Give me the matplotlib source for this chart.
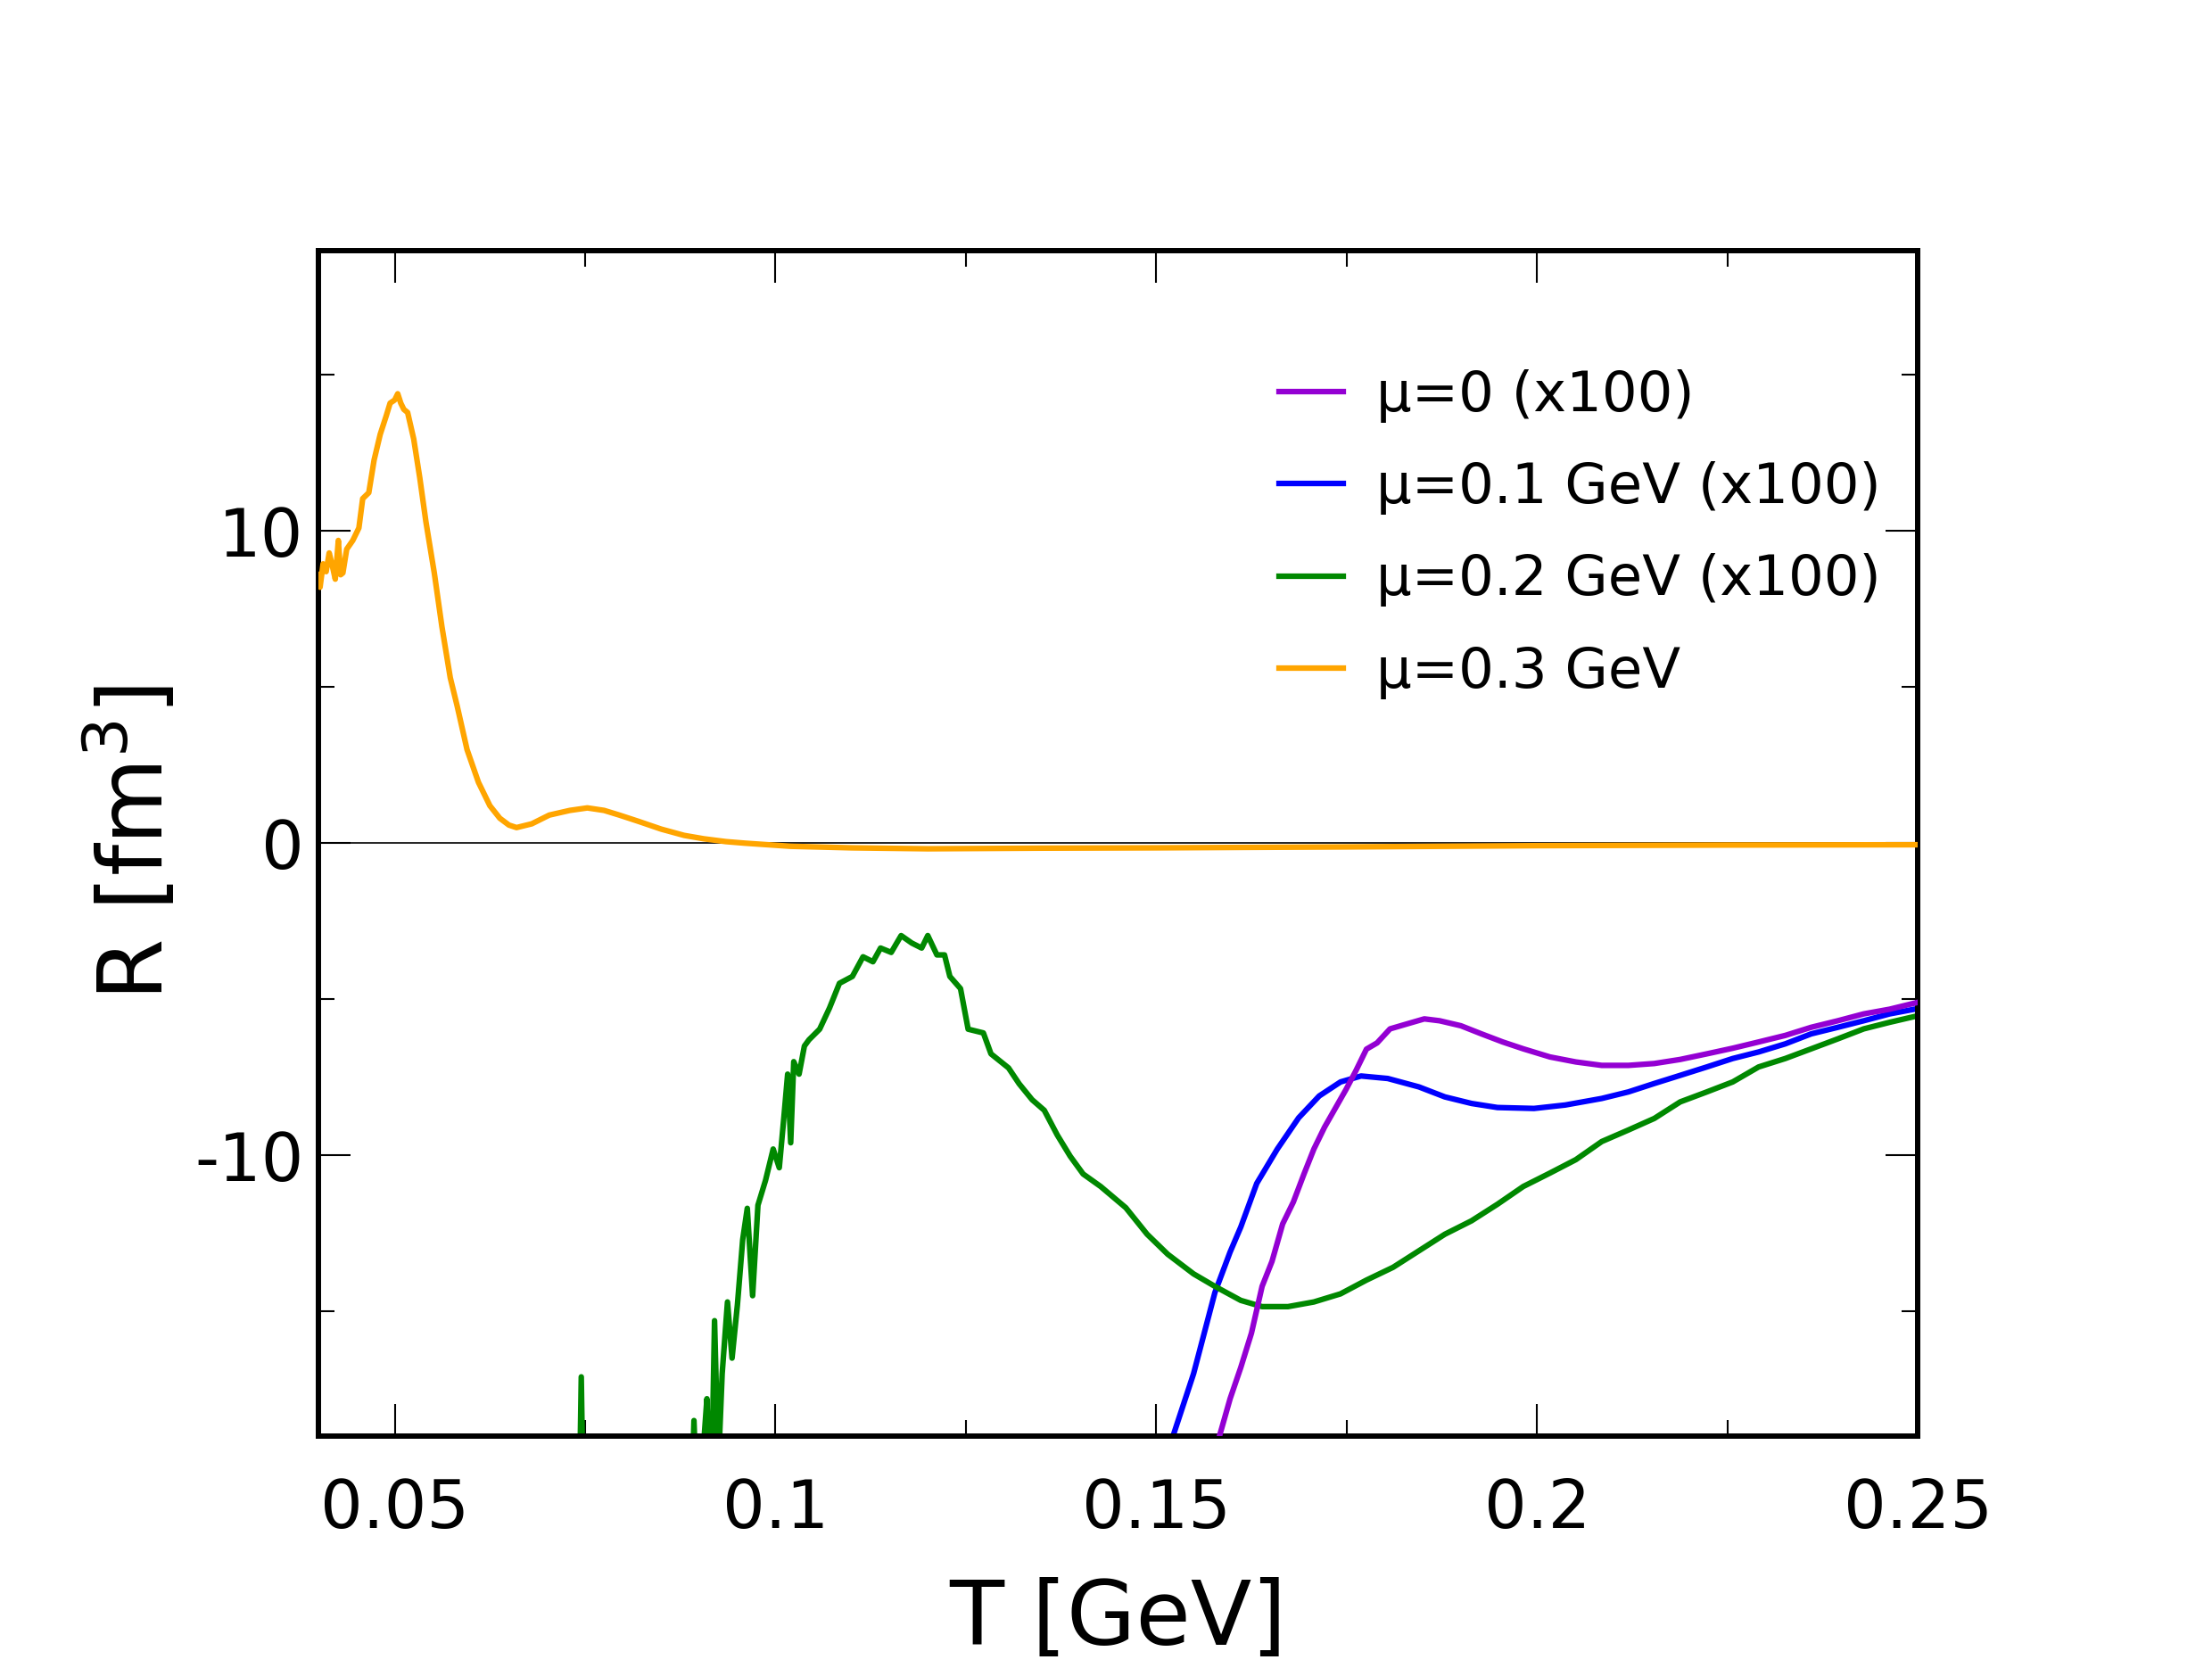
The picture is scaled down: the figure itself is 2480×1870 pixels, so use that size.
import matplotlib
matplotlib.use("Agg")
import matplotlib.pyplot as plt
from matplotlib.ticker import MultipleLocator

plt.rcParams["font.family"] = ["DejaVu Sans"]

# mu = 0 (x100)
t_mu0 = [0.1570, 0.1583, 0.1597, 0.1611, 0.1625, 0.1639, 0.1652, 0.1666, 0.1680,
         0.1694, 0.1707, 0.1721, 0.1735, 0.1749, 0.1762, 0.1776, 0.1790, 0.1807,
         0.1828, 0.1852, 0.1872, 0.1900, 0.1927, 0.1955, 0.1982, 0.2017, 0.2051,
         0.2085, 0.2120, 0.2154, 0.2188, 0.2223, 0.2257, 0.2291, 0.2326, 0.2360,
         0.2395, 0.2429, 0.2463, 0.2500]
r_mu0 = [-21.0, -19.0, -17.8, -16.8, -15.7, -14.2, -13.4, -12.2, -11.5,
         -10.6, -9.8, -9.1, -8.5, -7.9, -7.3, -6.6, -6.4, -5.95,
         -5.8, -5.63, -5.69, -5.85, -6.11, -6.37, -6.59, -6.85, -7.01,
         -7.12, -7.12, -7.06, -6.93, -6.75, -6.57, -6.37, -6.16, -5.9,
         -5.69, -5.47, -5.32, -5.1]

# mu = 0.1 GeV (x100)
t_mu1 = [0.1510, 0.1522, 0.1549, 0.1563, 0.1577, 0.1597, 0.1611, 0.1632, 0.1659,
         0.1687, 0.1714, 0.1742, 0.1769, 0.1804, 0.1845, 0.1879, 0.1914, 0.1948,
         0.1996, 0.2037, 0.2085, 0.2120, 0.2154, 0.2188, 0.2223, 0.2257, 0.2291,
         0.2326, 0.2360, 0.2395, 0.2429, 0.2463, 0.2500]
r_mu1 = [-21.0, -19.0, -17.0, -15.7, -14.4, -13.1, -12.3, -10.9, -9.8,
         -8.8, -8.1, -7.65, -7.46, -7.54, -7.81, -8.13, -8.34, -8.47,
         -8.5, -8.39, -8.18, -7.97, -7.7, -7.44, -7.17, -6.9, -6.69,
         -6.43, -6.11, -5.9, -5.69, -5.47, -5.3]

# mu = 0.2 GeV (x100)
t_mu2 = [0.0740, 0.0745, 0.0750, 0.0885, 0.0893, 0.0898, 0.0905, 0.0910, 0.0915,
         0.0920, 0.0925, 0.0930, 0.0937, 0.0943, 0.0950, 0.0957, 0.0963, 0.0970,
         0.0977, 0.0987, 0.0997, 0.1005, 0.1011, 0.1016, 0.1020, 0.1024, 0.1031,
         0.1038, 0.1044, 0.1058, 0.1071, 0.1084, 0.1101, 0.1115, 0.1128, 0.1138,
         0.1152, 0.1165, 0.1179, 0.1192, 0.1200, 0.1212, 0.1222, 0.1229, 0.1243,
         0.1253, 0.1273, 0.1283, 0.1306, 0.1320, 0.1337, 0.1353, 0.1370, 0.1387,
         0.1404, 0.1427, 0.1460, 0.1488, 0.1515, 0.1549, 0.1577, 0.1611, 0.1639,
         0.1673, 0.1707, 0.1742, 0.1776, 0.1811, 0.1845, 0.1879, 0.1914, 0.1948,
         0.1982, 0.2017, 0.2051, 0.2085, 0.2120, 0.2154, 0.2188, 0.2223, 0.2257,
         0.2291, 0.2326, 0.2360, 0.2395, 0.2429, 0.2463, 0.2500]
r_mu2 = [-25.0, -17.1, -25.0, -25.0, -18.5, -22.0, -19.5, -17.8, -22.0,
         -15.3, -20.0, -17.0, -14.7, -16.5, -14.8, -12.7, -11.7, -14.5,
         -11.6, -10.8, -9.8, -10.4, -8.8, -7.4, -9.6, -7.0, -7.4,
         -6.5, -6.3, -5.96, -5.28, -4.49, -4.27, -3.64, -3.8, -3.36,
         -3.5, -2.96, -3.2, -3.36, -2.96, -3.58, -3.58, -4.27, -4.66,
         -5.96, -6.08, -6.75, -7.2, -7.71, -8.22, -8.56, -9.35, -10.03,
         -10.6, -11.0, -11.68, -12.53, -13.17, -13.8, -14.2, -14.65, -14.85,
         -14.85, -14.7, -14.44, -14.0, -13.59, -13.06, -12.53, -12.1, -11.57,
         -11.0, -10.57, -10.14, -9.56, -9.19, -8.82, -8.29, -7.97, -7.65,
         -7.17, -6.9, -6.59, -6.27, -5.95, -5.74, -5.53]

# mu = 0.3 GeV
t_mu3 = [0.0398, 0.0402, 0.0406, 0.0410, 0.0414, 0.0418, 0.0422, 0.0426, 0.0429,
         0.0432, 0.0437, 0.0445, 0.0453, 0.0458, 0.0466, 0.0473, 0.0481, 0.0489,
         0.0494, 0.0500, 0.0504, 0.0508, 0.0512, 0.0517, 0.0525, 0.0533, 0.0541,
         0.0552, 0.0562, 0.0573, 0.0582, 0.0595, 0.0610, 0.0625, 0.0638, 0.0650,
         0.0660, 0.0680, 0.0703, 0.0730, 0.0753, 0.0775, 0.0795, 0.0820, 0.0850,
         0.0880, 0.0906, 0.0935, 0.0960, 0.1020, 0.1100, 0.1200, 0.1350, 0.1500,
         0.1750, 0.2000, 0.2250, 0.2500]
r_mu3 = [8.6, 8.2, 8.95, 8.7, 9.3, 8.9, 8.46, 9.7, 8.6,
         8.66, 9.42, 9.7, 10.1, 11.04, 11.23, 12.28, 13.1, 13.7,
         14.1, 14.2, 14.4, 14.1, 13.9, 13.8, 12.95, 11.7, 10.3,
         8.66, 6.94, 5.3, 4.4, 3.0, 1.95, 1.2, 0.8, 0.58,
         0.5, 0.62, 0.9, 1.05, 1.13, 1.05, 0.9, 0.7, 0.45,
         0.25, 0.14, 0.05, 0.0, -0.1, -0.15, -0.18, -0.16, -0.15,
         -0.12, -0.08, -0.06, -0.05]

fig = plt.figure(figsize=(24.8, 18.7), dpi=100)
ax = fig.add_axes([0.144, 0.139, 0.723, 0.711])

ax.axhline(0, color="black", lw=1.2, zorder=1)
ax.plot(t_mu0, r_mu0, color="#9400D3", lw=4.5, label="μ=0 (x100)", zorder=3)
ax.plot(t_mu1, r_mu1, color="#0000FF", lw=4.5, label="μ=0.1 GeV (x100)", zorder=2)
ax.plot(t_mu2, r_mu2, color="#008800", lw=4.5, label="μ=0.2 GeV (x100)", zorder=2)
ax.plot(t_mu3, r_mu3, color="#FFA500", lw=4.5, label="μ=0.3 GeV", zorder=4)

ax.set_xlim(0.04, 0.25)
ax.set_ylim(-19, 19)
ax.xaxis.set_minor_locator(MultipleLocator(0.025))
ax.yaxis.set_minor_locator(MultipleLocator(5))
ax.set_xticks([0.05, 0.1, 0.15, 0.2, 0.25])
ax.set_xticklabels(["0.05", "0.1", "0.15", "0.2", "0.25"])
ax.set_yticks([-10, 0, 10])
ax.set_yticklabels(["-10", "0", "10"])

ax.tick_params(which="both", direction="in", top=True, right=True, width=1.5,
               labelsize=54)
ax.tick_params(which="major", length=26)
ax.tick_params(which="minor", length=13)
ax.tick_params(axis="x", which="major", pad=33)
ax.tick_params(axis="y", which="major", pad=12)
for s in ax.spines.values():
    s.set_linewidth(4.3)

ax.set_xlabel("T [GeV]", fontsize=72, labelpad=28)
ax.set_ylabel("R [fm$^3$]", fontsize=72, labelpad=10)

ax.legend(loc="upper left", bbox_to_anchor=(0.583, 0.923), frameon=False,
          fontsize=45, handlelength=1.15, handletextpad=0.6, labelspacing=0.69,
          borderpad=0)

fig.savefig("out.png", dpi=100)
